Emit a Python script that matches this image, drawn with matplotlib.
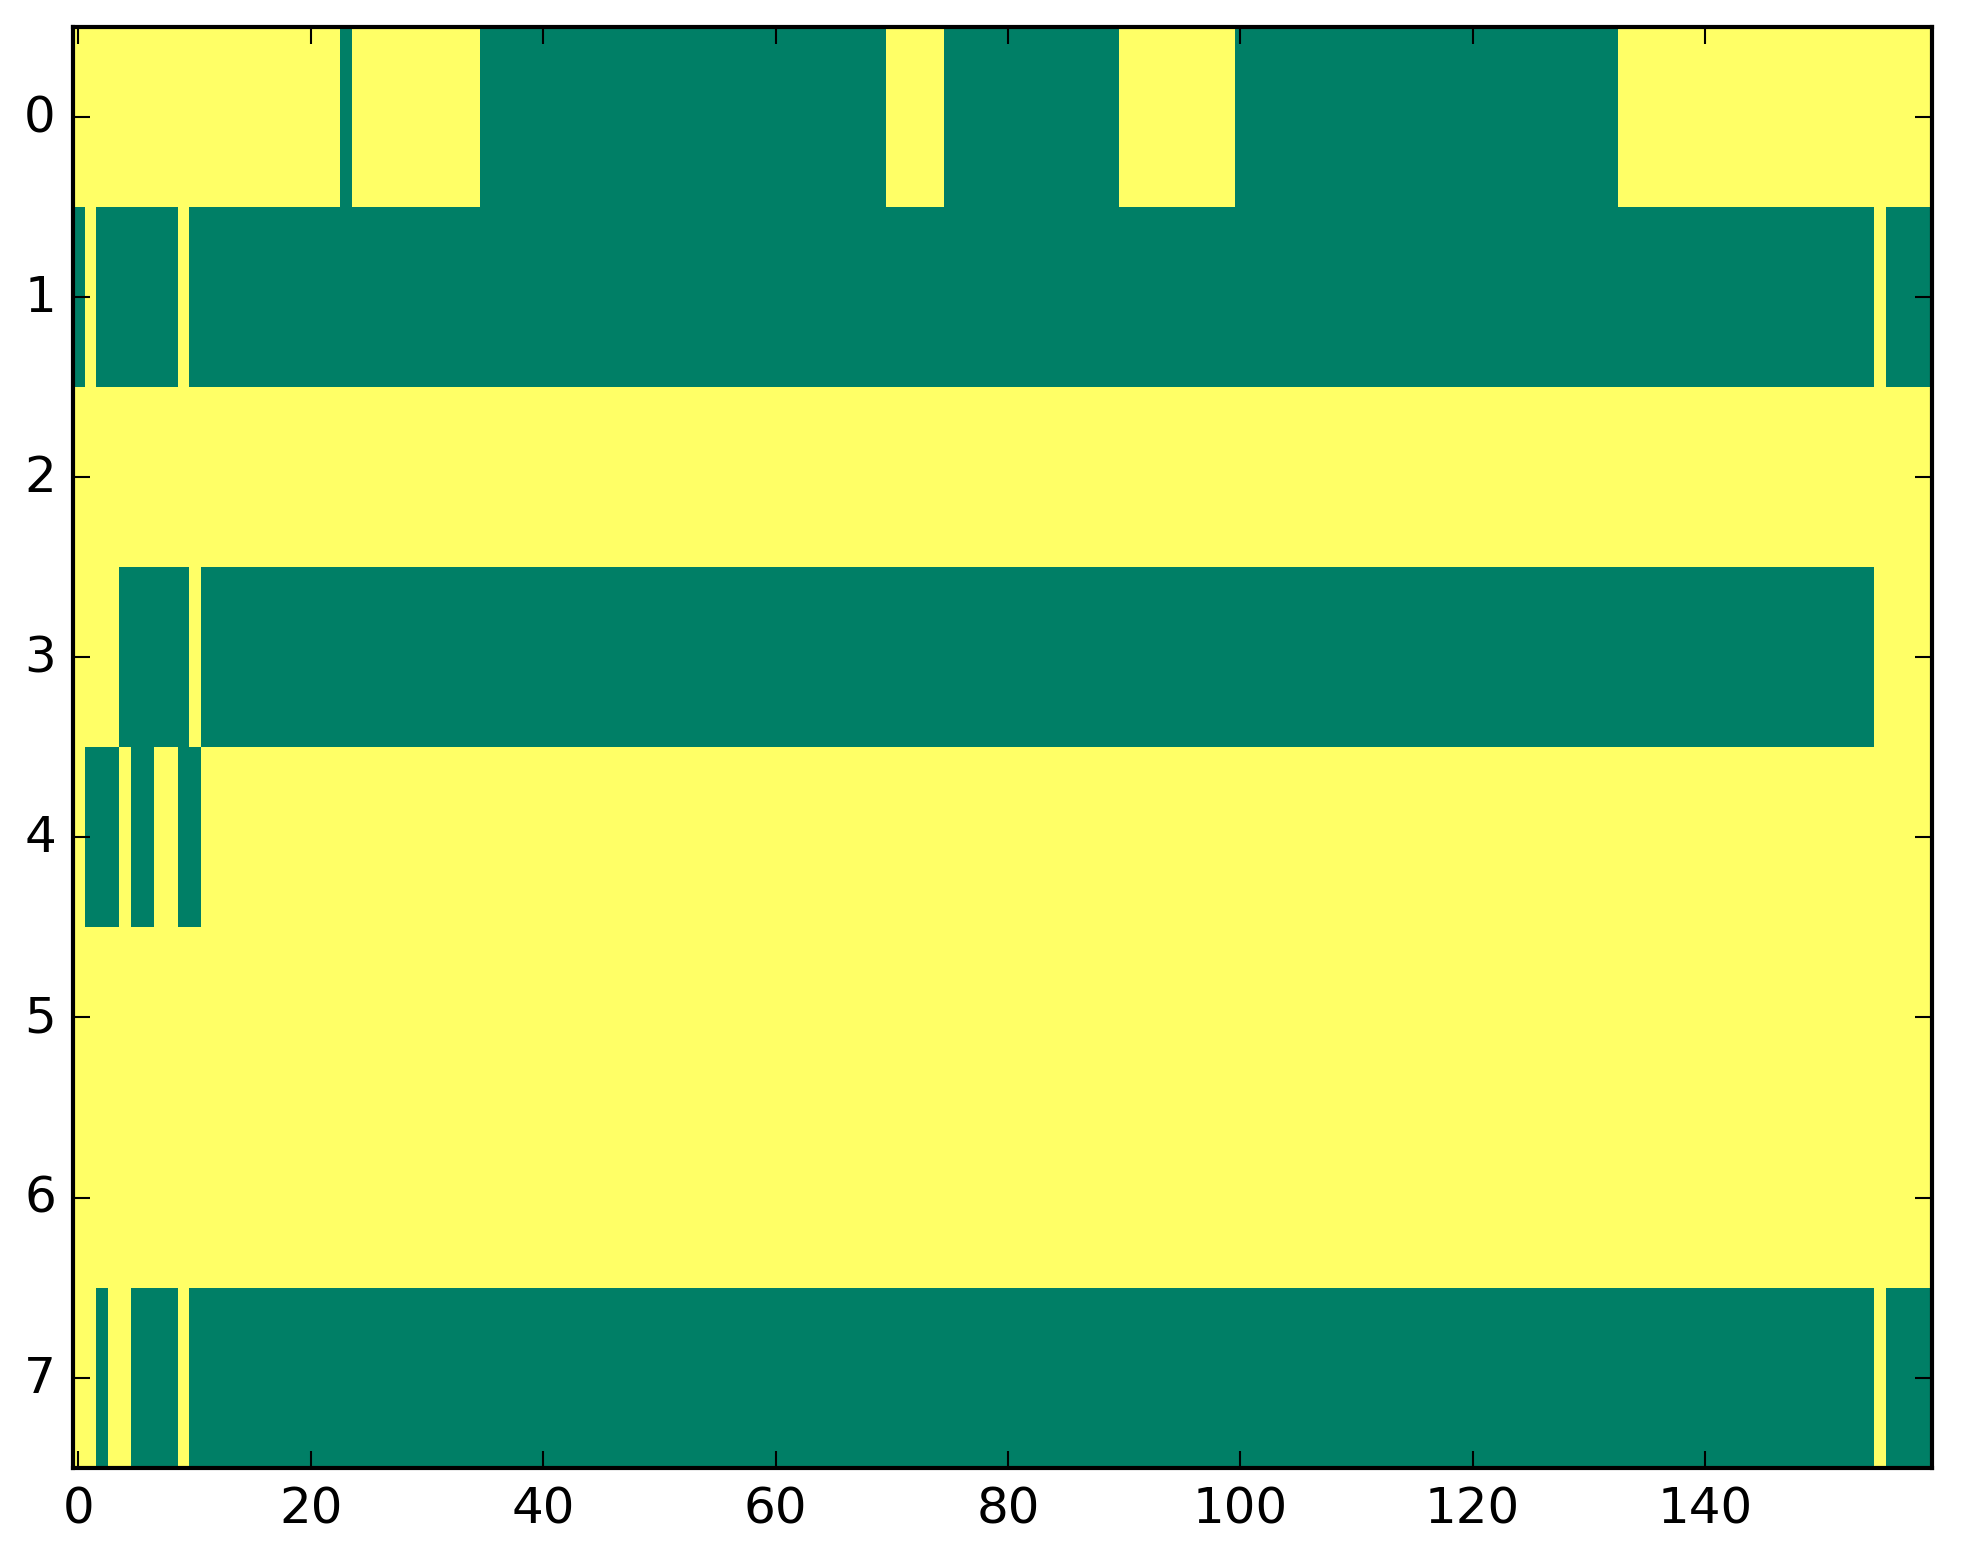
import matplotlib
matplotlib.use('Agg')
import matplotlib.pyplot as plt
import numpy as np

# each row: 160 cells, 1 = yellow, 0 = green (20 cells per chunk)
row0 = ['11111111111111111111', '11101111111111100000', '00000000000000000000', '00000000001111100000',
        '00000000001111111111', '00000000000000000000', '00000000000001111111', '11111111111111111111']
row1 = ['01000000010000000000', '00000000000000000000', '00000000000000000000', '00000000000000000000',
        '00000000000000000000', '00000000000000000000', '00000000000000000000', '00000000000000010000']
row2 = ['11111111111111111111'] * 8
row3 = ['11110000001000000000', '00000000000000000000', '00000000000000000000', '00000000000000000000',
        '00000000000000000000', '00000000000000000000', '00000000000000000000', '00000000000000011111']
row4 = ['10001001100111111111', '11111111111111111111', '11111111111111111111', '11111111111111111111',
        '11111111111111111111', '11111111111111111111', '11111111111111111111', '11111111111111111111']
row5 = ['11111111111111111111'] * 8
row6 = ['11111111111111111111'] * 8
row7 = ['11011000010000000000', '00000000000000000000', '00000000000000000000', '00000000000000000000',
        '00000000000000000000', '00000000000000000000', '00000000000000000000', '00000000000000010000']

rows = [row0, row1, row2, row3, row4, row5, row6, row7]
data = np.array([[int(c) for c in ''.join(r)] for r in rows])

plt.style.use('classic')
dpi = 300
fig = plt.figure(figsize=(1963 / dpi, 1564 / dpi), dpi=dpi, facecolor='white')
ax = fig.add_axes([0.037, 0.061, 0.947, 0.921])
ax.imshow(data, cmap='summer', aspect='auto', interpolation='nearest')
ax.set_xlim(-0.5, data.shape[1] - 0.5)
ax.set_ylim(data.shape[0] - 0.5, -0.5)
ax.set_xticks(np.arange(0, 160, 20))
ax.set_yticks(np.arange(0, 8))

fig.savefig('out.png', dpi=dpi, facecolor='white')
